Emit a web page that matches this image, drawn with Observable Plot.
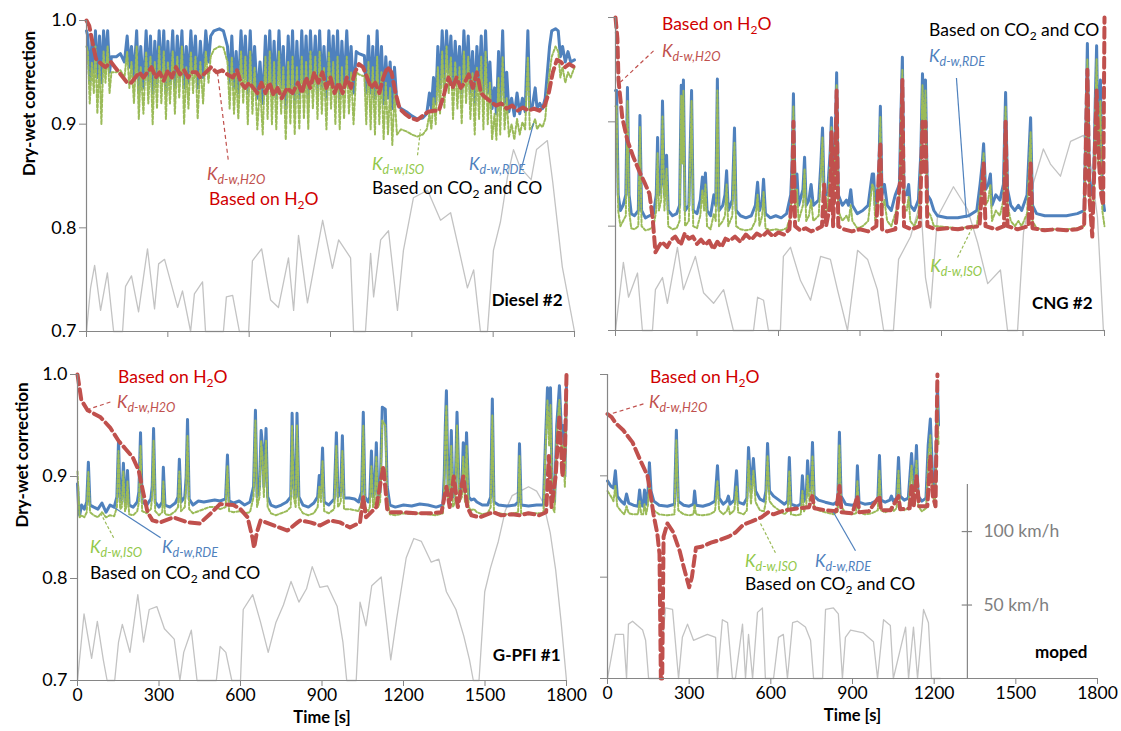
<!DOCTYPE html>
<html><head><meta charset="utf-8">
<script src="https://cdn.jsdelivr.net/npm/d3@7"></script>
<script src="https://cdn.jsdelivr.net/npm/@observablehq/plot@0.6"></script>
<style>
body{margin:0;background:#fff;}
#root{position:relative;width:1121px;height:731px;overflow:hidden;background:#fff;}
#root svg{position:absolute;left:0;top:0;}
</style></head><body><div id="root"></div>
<script>
// ---------------- DATA ----------------
const X_TICKS = [0, 300, 600, 900, 1200, 1500, 1800];
const Y_TICKS = [0.7, 0.8, 0.9, 1.0];
const SPEED_TICKS = [50, 100];           // km/h, secondary axis (moped panel)
const SPEED_LABELS = ["50 km/h", "100 km/h"];

// Diesel #2: [t, K_d-w,RDE, K_d-w,ISO]
const dieselKdw = [[0,0.99,0.975],[5,0.985,0.97],[12,0.94,0.92],[20,0.98,0.96],[27,0.95,0.93],[33,0.99,0.975],[40,0.945,0.91],[48,0.985,0.96],[55,0.94,0.90],[63,0.99,0.97],[70,0.96,0.94],[78,0.99,0.975],[85,0.95,0.93],[92,0.965,0.95],[110,0.965,0.95],[125,0.968,0.952],[140,0.96,0.945],[150,0.985,0.97],[158,0.955,0.935],[166,0.975,0.96],[175,0.945,0.92],[185,0.99,0.975],[193,0.93,0.905],[200,0.975,0.955],[210,0.935,0.91],[220,0.99,0.97],[228,0.94,0.92],[236,0.985,0.965],[244,0.93,0.90],[252,0.98,0.96],[260,0.94,0.915],[268,0.99,0.975],[276,0.945,0.92],[285,0.99,0.97],[293,0.93,0.905],[300,0.98,0.96],[308,0.94,0.92],[318,0.99,0.97],[326,0.935,0.91],[335,0.985,0.965],[342,0.945,0.925],[352,0.99,0.975],[360,0.935,0.90],[368,0.975,0.955],[376,0.94,0.915],[385,0.99,0.97],[393,0.95,0.93],[402,0.985,0.965],[410,0.935,0.905],[420,0.98,0.96],[430,0.945,0.92],[440,0.99,0.97],[450,0.96,0.94],[458,0.985,0.965],[470,0.99,0.972],[490,0.992,0.975],[505,0.99,0.974],[520,0.975,0.96],[528,0.94,0.915],[536,0.985,0.965],[544,0.935,0.91],[552,0.97,0.95],[560,0.93,0.905],[570,0.99,0.97],[578,0.945,0.92],[586,0.985,0.965],[595,0.93,0.90],[604,0.99,0.97],[612,0.935,0.91],[620,0.975,0.955],[630,0.925,0.895],[640,0.96,0.94],[650,0.92,0.89],[660,0.985,0.965],[668,0.935,0.905],[676,0.99,0.97],[684,0.93,0.90],[692,0.98,0.96],[700,0.925,0.895],[710,0.99,0.97],[718,0.935,0.91],[726,0.975,0.955],[735,0.915,0.885],[744,0.985,0.96],[752,0.93,0.90],[760,0.99,0.965],[768,0.92,0.89],[776,0.98,0.955],[785,0.925,0.895],[794,0.99,0.965],[802,0.935,0.905],[810,0.985,0.96],[818,0.925,0.895],[826,0.99,0.97],[835,0.94,0.915],[844,0.985,0.965],[852,0.93,0.905],[860,0.99,0.97],[868,0.935,0.91],[876,0.975,0.955],[885,0.925,0.895],[894,0.99,0.97],[902,0.94,0.915],[910,0.985,0.96],[918,0.93,0.90],[926,0.99,0.965],[934,0.925,0.895],[942,0.98,0.955],[950,0.935,0.905],[960,0.99,0.965],[968,0.94,0.91],[976,0.975,0.95],[985,0.93,0.90],[995,0.97,0.95],[1005,0.968,0.948],[1025,0.966,0.946],[1032,0.93,0.90],[1040,0.985,0.96],[1048,0.93,0.895],[1056,0.975,0.955],[1064,0.925,0.89],[1072,0.99,0.965],[1080,0.93,0.90],[1088,0.975,0.95],[1096,0.92,0.885],[1104,0.965,0.94],[1112,0.925,0.89],[1120,0.96,0.935],[1128,0.915,0.88],[1136,0.955,0.93],[1145,0.92,0.89],[1160,0.915,0.895],[1180,0.912,0.893],[1200,0.908,0.89],[1220,0.905,0.888],[1240,0.906,0.89],[1255,0.91,0.895],[1265,0.93,0.91],[1272,0.915,0.895],[1280,0.945,0.925],[1288,0.92,0.90],[1296,0.975,0.955],[1304,0.935,0.91],[1312,0.99,0.97],[1320,0.94,0.915],[1328,0.99,0.975],[1336,0.95,0.93],[1344,0.985,0.965],[1352,0.935,0.905],[1360,0.98,0.96],[1368,0.94,0.915],[1376,0.975,0.955],[1384,0.93,0.90],[1392,0.99,0.97],[1400,0.945,0.92],[1408,0.985,0.965],[1416,0.93,0.905],[1424,0.97,0.95],[1432,0.92,0.89],[1440,0.975,0.955],[1448,0.935,0.905],[1456,0.985,0.965],[1464,0.925,0.895],[1472,0.99,0.97],[1480,0.93,0.90],[1488,0.96,0.94],[1496,0.915,0.885],[1505,0.935,0.91],[1512,0.91,0.885],[1520,0.97,0.945],[1526,0.915,0.89],[1535,0.99,0.965],[1542,0.92,0.895],[1550,0.95,0.925],[1558,0.912,0.888],[1568,0.925,0.90],[1578,0.908,0.885],[1588,0.93,0.905],[1598,0.91,0.89],[1608,0.925,0.902],[1618,0.912,0.895],[1628,0.99,0.965],[1635,0.915,0.895],[1645,0.918,0.898],[1655,0.935,0.905],[1662,0.915,0.895],[1672,0.92,0.90],[1682,0.915,0.897],[1692,0.925,0.905],[1700,0.95,0.93],[1708,0.975,0.95],[1716,0.99,0.965],[1730,0.992,0.975],[1740,0.99,0.97],[1748,0.965,0.945],[1756,0.975,0.955],[1766,0.96,0.94],[1776,0.97,0.95],[1786,0.96,0.945],[1800,0.962,0.955]];
// Diesel #2: [t, K_d-w,H2O]
const dieselH2O = [[0,1.0],[10,0.995],[25,0.975],[35,0.963],[55,0.958],[70,0.955],[90,0.96],[105,0.955],[120,0.95],[135,0.945],[150,0.94],[165,0.94],[180,0.945],[195,0.95],[210,0.945],[225,0.95],[240,0.955],[255,0.945],[270,0.95],[285,0.942],[300,0.952],[315,0.945],[330,0.955],[345,0.948],[360,0.952],[375,0.945],[390,0.95],[405,0.95],[420,0.945],[440,0.95],[460,0.955],[480,0.95],[500,0.952],[520,0.948],[540,0.945],[555,0.952],[570,0.94],[585,0.935],[600,0.94],[615,0.935],[630,0.93],[645,0.94],[660,0.93],[675,0.94],[690,0.928],[705,0.935],[720,0.925],[740,0.935],[760,0.93],[780,0.94],[795,0.93],[810,0.945],[825,0.935],[840,0.95],[855,0.94],[870,0.95],[885,0.935],[900,0.945],[915,0.93],[930,0.94],[945,0.93],[960,0.945],[975,0.935],[990,0.95],[1005,0.958],[1020,0.955],[1035,0.945],[1050,0.935],[1065,0.94],[1080,0.93],[1095,0.945],[1110,0.955],[1125,0.95],[1140,0.93],[1155,0.915],[1175,0.91],[1195,0.906],[1220,0.904],[1240,0.908],[1260,0.912],[1280,0.913],[1300,0.913],[1320,0.93],[1335,0.945],[1350,0.935],[1365,0.945],[1380,0.935],[1395,0.94],[1410,0.948],[1425,0.935],[1440,0.95],[1455,0.93],[1470,0.926],[1490,0.922],[1510,0.918],[1530,0.92],[1550,0.915],[1570,0.918],[1590,0.913],[1610,0.916],[1630,0.913],[1650,0.915],[1670,0.913],[1690,0.918],[1705,0.93],[1720,0.95],[1735,0.962],[1750,0.96],[1765,0.955],[1780,0.958],[1800,0.955]];
// Diesel #2 vehicle speed: [t, km/h]
const dieselSpeed = [[0,0],[15,29],[30,44],[52,14],[77,39],[100,0],[133,0],[144,30],[166,37],[192,13],[225,55],[251,15],[266,45],[288,48],[336,16],[354,27],[384,0],[398,25],[428,33],[439,0],[505,0],[516,23],[539,24],[564,0],[598,0],[612,47],[646,55],[668,32],[679,21],[708,16],[745,49],[764,14],[782,64],[815,19],[871,74],[907,42],[930,61],[974,49],[985,0],[1029,0],[1048,52],[1059,23],[1085,61],[1114,67],[1147,14],[1169,54],[1206,89],[1258,94],[1306,74],[1343,79],[1372,56],[1405,29],[1428,41],[1453,0],[1479,0],[1501,54],[1527,73],[1553,103],[1575,121],[1600,109],[1640,101],[1660,121],[1700,127],[1720,99],[1755,43],[1800,0]];

// CNG #2: [t, K_d-w,RDE, K_d-w,ISO]
const cngKdw = [[0,0.93,0.915],[4,0.93,0.915],[10,0.83,0.815],[18,0.815,0.80],[28,0.82,0.805],[38,0.83,0.81],[44,0.933,0.92],[50,0.83,0.815],[58,0.812,0.798],[70,0.81,0.797],[84,0.815,0.80],[90,0.906,0.895],[96,0.815,0.80],[110,0.808,0.796],[125,0.81,0.797],[140,0.812,0.80],[150,0.83,0.815],[155,0.885,0.87],[160,0.83,0.815],[168,0.84,0.825],[173,0.92,0.905],[180,0.83,0.815],[188,0.868,0.855],[194,0.815,0.80],[210,0.81,0.797],[225,0.812,0.798],[236,0.82,0.805],[242,0.935,0.925],[246,0.87,0.86],[250,0.94,0.93],[256,0.815,0.80],[270,0.82,0.805],[280,0.93,0.92],[286,0.815,0.80],[300,0.812,0.798],[312,0.825,0.81],[320,0.847,0.835],[326,0.83,0.815],[331,0.851,0.84],[337,0.815,0.80],[350,0.81,0.797],[362,0.83,0.812],[369,0.82,0.805],[375,0.941,0.93],[381,0.815,0.80],[395,0.82,0.805],[403,0.83,0.81],[409,0.853,0.84],[415,0.815,0.80],[430,0.825,0.81],[438,0.894,0.88],[444,0.815,0.80],[460,0.81,0.797],[480,0.808,0.796],[500,0.81,0.797],[515,0.82,0.805],[523,0.842,0.83],[530,0.815,0.80],[540,0.825,0.81],[545,0.845,0.833],[552,0.812,0.798],[570,0.808,0.796],[590,0.81,0.797],[610,0.808,0.796],[630,0.812,0.798],[645,0.83,0.81],[650,0.86,0.845],[655,0.927,0.915],[661,0.83,0.815],[668,0.85,0.835],[674,0.82,0.805],[690,0.835,0.82],[696,0.866,0.855],[702,0.82,0.805],[712,0.825,0.81],[720,0.84,0.825],[728,0.82,0.805],[748,0.825,0.81],[756,0.86,0.85],[762,0.894,0.885],[768,0.83,0.815],[780,0.83,0.815],[790,0.87,0.86],[795,0.904,0.895],[801,0.84,0.825],[808,0.87,0.86],[814,0.947,0.935],[820,0.83,0.815],[835,0.82,0.805],[850,0.825,0.81],[858,0.82,0.805],[866,0.835,0.82],[872,0.82,0.805],[890,0.812,0.798],[910,0.815,0.80],[930,0.82,0.805],[945,0.85,0.84],[950,0.85,0.838],[956,0.82,0.805],[968,0.84,0.825],[975,0.915,0.905],[981,0.83,0.815],[990,0.84,0.825],[1000,0.82,0.805],[1015,0.815,0.80],[1030,0.83,0.812],[1045,0.84,0.825],[1050,0.90,0.89],[1056,0.962,0.95],[1062,0.83,0.815],[1072,0.83,0.815],[1079,0.84,0.828],[1085,0.82,0.805],[1100,0.815,0.80],[1115,0.825,0.81],[1124,0.87,0.86],[1130,0.946,0.935],[1136,0.90,0.89],[1141,0.94,0.93],[1148,0.83,0.815],[1160,0.825,0.81],[1172,0.815,0.80],[1185,0.81,0.80],[1220,0.808,0.799],[1260,0.808,0.798],[1300,0.81,0.799],[1330,0.815,0.80],[1342,0.84,0.825],[1350,0.86,0.85],[1355,0.879,0.87],[1362,0.835,0.82],[1372,0.84,0.825],[1380,0.85,0.84],[1386,0.82,0.805],[1400,0.83,0.815],[1415,0.825,0.81],[1428,0.84,0.825],[1436,0.928,0.915],[1443,0.835,0.82],[1455,0.82,0.805],[1470,0.815,0.80],[1483,0.82,0.805],[1495,0.815,0.80],[1515,0.83,0.812],[1528,0.904,0.89],[1535,0.82,0.805],[1550,0.812,0.798],[1580,0.81,0.797],[1620,0.81,0.797],[1660,0.81,0.797],[1700,0.812,0.798],[1725,0.815,0.80],[1732,0.90,0.89],[1737,0.975,0.96],[1744,0.85,0.835],[1752,0.83,0.815],[1760,0.84,0.825],[1766,0.92,0.905],[1771,0.973,0.96],[1777,0.87,0.86],[1785,0.94,0.92],[1792,0.83,0.815],[1800,0.815,0.80]];
// CNG #2: [t, K_d-w,H2O]
const cngH2O = [[0,1.0],[7,0.98],[11,0.94],[25,0.904],[44,0.882],[66,0.866],[92,0.85],[110,0.84],[125,0.831],[136,0.81],[147,0.775],[158,0.78],[170,0.785],[190,0.78],[205,0.787],[220,0.79],[240,0.782],[255,0.793],[270,0.788],[285,0.79],[300,0.783],[315,0.787],[330,0.782],[345,0.786],[360,0.778],[375,0.785],[390,0.78],[405,0.788],[420,0.786],[440,0.79],[460,0.785],[480,0.792],[500,0.787],[520,0.793],[540,0.79],[560,0.795],[580,0.79],[600,0.794],[620,0.792],[640,0.797],[650,0.83],[655,0.90],[661,0.80],[680,0.796],[700,0.798],[720,0.795],[740,0.797],[760,0.8],[768,0.84],[775,0.8],[790,0.82],[795,0.89],[801,0.8],[808,0.85],[814,0.93],[820,0.8],[840,0.797],[870,0.795],[900,0.797],[930,0.795],[960,0.8],[975,0.88],[981,0.797],[1000,0.795],[1030,0.797],[1050,0.85],[1056,0.94],[1062,0.8],[1090,0.797],[1120,0.80],[1130,0.9],[1136,0.85],[1141,0.9],[1148,0.8],[1180,0.797],[1220,0.798],[1260,0.797],[1300,0.799],[1340,0.8],[1355,0.86],[1362,0.8],[1400,0.797],[1430,0.8],[1436,0.9],[1443,0.8],[1480,0.797],[1520,0.8],[1528,0.86],[1535,0.798],[1580,0.796],[1620,0.797],[1660,0.796],[1700,0.797],[1725,0.80],[1737,0.95],[1744,0.83],[1755,0.79],[1771,0.93],[1780,0.86],[1788,0.83],[1795,0.82],[1800,1.0]];
const cngSpeed = [[0,0],[29,45],[48,22],[81,38],[99,0],[136,0],[147,27],[173,35],[191,18],[228,55],[250,27],[294,49],[324,25],[361,18],[398,27],[434,0],[508,0],[523,22],[545,20],[563,0],[607,0],[618,49],[644,55],[681,33],[718,20],[755,49],[791,47],[817,27],[854,0],[891,53],[928,47],[964,27],[987,0],[1023,0],[1042,47],[1086,62],[1123,85],[1141,35],[1160,15],[1185,75],[1244,95],[1296,80],[1333,58],[1370,31],[1417,40],[1443,0],[1480,0],[1502,65],[1539,98],[1575,120],[1601,110],[1638,102],[1675,125],[1723,129],[1749,110],[1774,75],[1796,0],[1800,0]];

// G-PFI #1: [t, K_d-w,RDE, K_d-w,ISO]
const gpfiKdw = [[0,0.893,0.905],[4,0.87,0.88],[8,0.862,0.86],[15,0.872,0.862],[25,0.868,0.86],[34,0.875,0.865],[40,0.914,0.905],[46,0.872,0.865],[60,0.87,0.862],[75,0.868,0.86],[90,0.874,0.865],[105,0.865,0.86],[120,0.872,0.862],[135,0.87,0.861],[145,0.88,0.87],[151,0.935,0.925],[157,0.875,0.868],[163,0.88,0.87],[169,0.913,0.905],[175,0.875,0.866],[180,0.88,0.87],[184,0.906,0.895],[190,0.872,0.863],[205,0.87,0.862],[220,0.875,0.866],[226,0.885,0.875],[232,0.943,0.93],[238,0.875,0.866],[255,0.872,0.864],[270,0.878,0.868],[275,0.89,0.88],[280,0.947,0.935],[286,0.875,0.866],[300,0.87,0.862],[312,0.875,0.865],[316,0.909,0.895],[322,0.872,0.863],[340,0.87,0.862],[360,0.874,0.866],[370,0.88,0.87],[375,0.917,0.905],[381,0.875,0.866],[395,0.88,0.87],[400,0.9,0.89],[405,0.956,0.94],[411,0.878,0.868],[425,0.872,0.864],[445,0.876,0.866],[465,0.875,0.868],[485,0.876,0.87],[505,0.877,0.87],[525,0.876,0.868],[545,0.878,0.87],[552,0.921,0.91],[558,0.876,0.866],[575,0.874,0.865],[595,0.876,0.866],[615,0.872,0.864],[635,0.875,0.865],[648,0.89,0.88],[655,0.965,0.955],[661,0.88,0.87],[670,0.89,0.88],[676,0.945,0.935],[681,0.93,0.92],[686,0.89,0.88],[694,0.947,0.935],[700,0.88,0.87],[712,0.872,0.864],[730,0.87,0.862],[750,0.872,0.864],[770,0.875,0.866],[785,0.88,0.87],[790,0.962,0.95],[796,0.89,0.88],[803,0.88,0.87],[808,0.962,0.95],[815,0.88,0.87],[830,0.872,0.864],[850,0.87,0.862],[870,0.874,0.864],[884,0.88,0.87],[890,0.901,0.89],[896,0.885,0.875],[902,0.928,0.915],[908,0.875,0.866],[925,0.872,0.864],[945,0.878,0.868],[953,0.943,0.93],[959,0.88,0.87],[969,0.885,0.875],[975,0.94,0.925],[981,0.879,0.868],[1000,0.879,0.868],[1020,0.878,0.867],[1035,0.875,0.866],[1046,0.885,0.875],[1052,0.963,0.95],[1058,0.88,0.87],[1070,0.875,0.866],[1076,0.88,0.87],[1082,0.925,0.91],[1088,0.88,0.87],[1094,0.885,0.875],[1100,0.933,0.92],[1106,0.88,0.87],[1114,0.885,0.875],[1122,0.968,0.955],[1133,0.966,0.95],[1140,0.89,0.88],[1150,0.872,0.863],[1170,0.87,0.862],[1200,0.872,0.864],[1230,0.871,0.863],[1260,0.873,0.864],[1290,0.872,0.863],[1320,0.87,0.862],[1345,0.872,0.864],[1350,0.901,0.89],[1354,0.95,0.94],[1358,0.984,0.97],[1364,0.89,0.88],[1370,0.885,0.875],[1376,0.945,0.93],[1382,0.88,0.87],[1390,0.885,0.875],[1397,0.963,0.95],[1405,0.885,0.875],[1415,0.89,0.88],[1420,0.933,0.92],[1426,0.885,0.875],[1432,0.943,0.93],[1440,0.88,0.87],[1450,0.877,0.867],[1460,0.878,0.868],[1470,0.875,0.865],[1490,0.872,0.863],[1510,0.872,0.864],[1521,0.88,0.87],[1527,0.976,0.96],[1533,0.875,0.865],[1550,0.872,0.864],[1580,0.871,0.863],[1610,0.872,0.864],[1622,0.875,0.865],[1627,0.932,0.92],[1633,0.872,0.864],[1660,0.871,0.863],[1690,0.872,0.864],[1715,0.872,0.864],[1722,0.93,0.92],[1730,0.987,0.975],[1736,0.95,0.93],[1741,0.987,0.97],[1748,0.88,0.87],[1756,0.875,0.865],[1764,0.95,0.94],[1774,0.989,0.975],[1782,0.94,0.925],[1788,0.95,0.93],[1794,0.9,0.89],[1800,0.992,0.98]];
const gpfiH2O = [[0,1.0],[14,0.975],[37,0.965],[85,0.958],[120,0.948],[151,0.935],[177,0.927],[203,0.919],[225,0.906],[243,0.883],[258,0.865],[276,0.857],[305,0.855],[353,0.86],[405,0.855],[450,0.854],[487,0.863],[525,0.873],[574,0.872],[600,0.868],[626,0.86],[644,0.84],[650,0.83],[660,0.845],[674,0.857],[722,0.852],[773,0.847],[810,0.855],[820,0.857],[857,0.855],[893,0.852],[930,0.857],[966,0.855],[1003,0.85],[1040,0.855],[1052,0.88],[1062,0.86],[1100,0.87],[1126,0.91],[1140,0.868],[1150,0.865],[1200,0.865],[1250,0.864],[1300,0.864],[1340,0.865],[1358,0.89],[1370,0.87],[1385,0.9],[1400,0.87],[1420,0.9],[1435,0.87],[1450,0.862],[1480,0.86],[1530,0.865],[1560,0.862],[1600,0.863],[1630,0.862],[1660,0.864],[1700,0.862],[1725,0.865],[1735,0.92],[1745,0.87],[1760,0.9],[1774,0.96],[1785,0.9],[1795,0.93],[1800,1.0]];
const gpfiSpeed = [[0,0],[24,45],[52,15],[73,40],[95,14],[109,0],[137,0],[151,26],[165,38],[193,19],[222,58],[243,26],[264,48],[292,50],[320,35],[356,28],[377,0],[391,19],[419,34],[440,0],[511,0],[525,23],[546,19],[568,0],[600,0],[610,48],[645,58],[673,40],[702,19],[730,39],[758,51],[786,67],[815,53],[843,62],[864,77],[892,63],[920,64],[956,50],[977,26],[991,0],[1026,0],[1040,53],[1062,37],[1083,64],[1118,70],[1139,37],[1153,14],[1175,42],[1210,83],[1238,96],[1266,94],[1302,80],[1330,82],[1358,60],[1393,48],[1422,30],[1443,14],[1457,0],[1478,0],[1499,60],[1520,76],[1549,94],[1575,115],[1600,125],[1630,128],[1660,131],[1690,128],[1715,120],[1740,100],[1760,75],[1780,40],[1800,0]];

// moped: [t, K_d-w,RDE, K_d-w,ISO]
const mopedKdw = [[0,0.895,0.885],[12,0.89,0.88],[22,0.888,0.875],[29,0.905,0.89],[36,0.88,0.87],[50,0.875,0.865],[62,0.872,0.862],[70,0.882,0.87],[78,0.873,0.863],[95,0.871,0.862],[112,0.87,0.862],[118,0.886,0.875],[124,0.871,0.862],[131,0.87,0.862],[136,0.886,0.872],[142,0.872,0.862],[149,0.885,0.872],[154,0.913,0.895],[160,0.885,0.875],[170,0.875,0.866],[190,0.871,0.862],[220,0.87,0.861],[246,0.872,0.862],[253,0.945,0.935],[260,0.875,0.866],[280,0.871,0.862],[300,0.87,0.861],[316,0.872,0.862],[320,0.885,0.872],[325,0.871,0.862],[350,0.87,0.861],[375,0.872,0.862],[395,0.875,0.865],[404,0.91,0.895],[410,0.878,0.866],[425,0.872,0.862],[438,0.875,0.865],[444,0.88,0.87],[450,0.872,0.862],[466,0.876,0.866],[474,0.905,0.89],[480,0.874,0.864],[500,0.872,0.862],[512,0.878,0.866],[518,0.928,0.915],[527,0.885,0.872],[536,0.917,0.905],[544,0.885,0.874],[560,0.877,0.866],[575,0.875,0.865],[582,0.885,0.875],[588,0.932,0.92],[595,0.885,0.875],[610,0.88,0.87],[630,0.876,0.866],[650,0.872,0.862],[662,0.875,0.865],[668,0.918,0.905],[674,0.872,0.862],[695,0.87,0.861],[710,0.872,0.862],[716,0.9,0.885],[722,0.875,0.865],[730,0.88,0.87],[735,0.915,0.9],[742,0.885,0.875],[748,0.89,0.88],[753,0.933,0.92],[759,0.88,0.87],[775,0.876,0.866],[800,0.874,0.864],[830,0.872,0.862],[846,0.875,0.865],[852,0.943,0.93],[858,0.88,0.87],[875,0.872,0.863],[900,0.871,0.862],[913,0.873,0.863],[918,0.91,0.895],[924,0.874,0.864],[945,0.872,0.862],[970,0.873,0.863],[993,0.876,0.866],[999,0.92,0.905],[1005,0.876,0.866],[1020,0.874,0.864],[1037,0.876,0.866],[1043,0.88,0.87],[1050,0.875,0.865],[1062,0.878,0.868],[1069,0.918,0.905],[1075,0.88,0.87],[1090,0.876,0.866],[1105,0.878,0.868],[1111,0.9,0.89],[1117,0.922,0.91],[1124,0.89,0.88],[1130,0.9,0.89],[1135,0.93,0.915],[1141,0.88,0.87],[1155,0.875,0.865],[1170,0.878,0.868],[1178,0.93,0.915],[1186,0.956,0.94],[1194,0.9,0.885],[1202,0.88,0.87],[1208,0.93,0.915],[1212,0.992,0.98],[1216,0.95,0.93]];
const mopedH2O = [[0,0.961],[15,0.958],[30,0.952],[58,0.945],[92,0.933],[121,0.915],[147,0.90],[158,0.882],[169,0.862],[183,0.843],[191,0.823],[196,0.70],[201,0.70],[206,0.84],[220,0.853],[240,0.845],[265,0.826],[280,0.81],[300,0.79],[310,0.80],[325,0.829],[345,0.83],[380,0.834],[415,0.837],[445,0.84],[470,0.844],[500,0.852],[530,0.855],[565,0.859],[590,0.864],[610,0.862],[650,0.866],[700,0.868],[740,0.869],[752,0.88],[760,0.868],[800,0.866],[840,0.865],[852,0.89],[860,0.864],[900,0.863],[918,0.88],[925,0.864],[960,0.865],[999,0.88],[1005,0.866],[1040,0.866],[1069,0.88],[1075,0.867],[1110,0.868],[1117,0.89],[1125,0.87],[1135,0.9],[1145,0.87],[1175,0.87],[1186,0.92],[1195,0.88],[1205,0.87],[1212,1.0]];
const mopedSpeed = [[0,0],[29,30],[59,30],[70,0],[77,37],[92,39],[110,36],[129,33],[140,26],[151,0],[191,0],[213,48],[239,47],[261,0],[275,28],[294,37],[316,26],[367,30],[397,28],[404,0],[422,40],[441,38],[459,0],[470,0],[496,37],[507,0],[518,30],[533,0],[551,45],[569,48],[580,0],[610,0],[628,28],[646,30],[661,0],[680,38],[698,39],[727,35],[746,26],[757,0],[790,0],[801,47],[830,48],[848,44],[863,0],[874,28],[893,33],[940,31],[977,25],[992,0],[1014,40],[1039,36],[1050,0],[1095,35],[1106,0],[1124,35],[1139,0],[1161,47],[1179,38],[1190,0],[1223,0]];

// ---------------- STYLE / LAYOUT ----------------
const FONT = "Lato, 'Open Sans', 'DejaVu Sans', sans-serif";
const BLUE = "#4f81bd", GREEN = "#9bbb59", RED = "#c0504d", GREY = "#c3c3c3", AXIS = "#868686";
const TXT_RED = "#d00000", TXT_KRED = "#c0504d", TXT_GREEN = "#92c84a", TXT_BLUE = "#4f81bd";
const SPEED_K = 0.00145;            // correction units per km/h (secondary speed axis)
const speedToY = s => 0.7 + s * SPEED_K;
const SPEED_AXIS_T = 1322;

const W = 1121, H = 731;
const panels = [
  {id:"diesel", frame:{l:86, r:574, t:20, b:331}, xLabels:false, yLabels:true, ylabDx:-57,
   kdw:dieselKdw, h2o:dieselH2O, speed:dieselSpeed,
   name:{t:1756, v:0.730, text:"Diesel #2"},
   texts:[
     {t:446, v:0.852, text:"K_{d-w,H2O}", color:TXT_KRED, k:true},
     {t:454, v:0.828, text:"Based on H_{2}O", color:TXT_RED},
     {t:1055, v:0.861, text:"K_{d-w,ISO}", color:TXT_GREEN, k:true},
     {t:1413, v:0.861, text:"K_{d-w,RDE}", color:TXT_BLUE, k:true},
     {t:1055, v:0.838, text:"Based on CO_{2} and CO", color:"#000"}],
   leaders:[
     {t1:483, v1:0.950, t2:524, v2:0.863, color:RED, dash:"4,3"},
     {t1:1221, v1:0.870, t2:1232, v2:0.895, color:GREEN, dash:"3,2"},
     {t1:1605, v1:0.858, t2:1649, v2:0.901, color:BLUE, dash:null}]},
  {id:"cng", frame:{l:615, r:1104, t:17, b:330}, xLabels:false, yLabels:false,
   kdw:cngKdw, h2o:cngH2O, speed:cngSpeed,
   name:{t:1756, v:0.726, text:"CNG #2"},
   texts:[
     {t:173, v:0.994, text:"Based on H_{2}O", color:TXT_RED},
     {t:173, v:0.968, text:"K_{d-w,H2O}", color:TXT_KRED, k:true},
     {t:1156, v:0.988, text:"Based on CO_{2} and CO", color:"#000"},
     {t:1156, v:0.963, text:"K_{d-w,RDE}", color:TXT_BLUE, k:true},
     {t:1160, v:0.761, text:"K_{d-w,ISO}", color:TXT_GREEN, k:true}],
   leaders:[
     {t1:140, v1:0.968, t2:18, v2:0.938, color:RED, dash:"4,3"},
     {t1:1255, v1:0.942, t2:1292, v2:0.808, color:BLUE, dash:null},
     {t1:1259, v1:0.770, t2:1318, v2:0.801, color:GREEN, dash:"3,2"}]},
  {id:"gpfi", frame:{l:77, r:566, t:374, b:680}, xLabels:true, yLabels:true, ylabDx:-55, timeLabel:true,
   kdw:gpfiKdw, h2o:gpfiH2O, speed:gpfiSpeed,
   name:{t:1778, v:0.724, text:"G-PFI #1"},
   texts:[
     {t:151, v:0.997, text:"Based on H_{2}O", color:TXT_RED},
     {t:147, v:0.973, text:"K_{d-w,H2O}", color:TXT_KRED, k:true},
     {t:48, v:0.831, text:"K_{d-w,ISO}", color:TXT_GREEN, k:true},
     {t:313, v:0.831, text:"K_{d-w,RDE}", color:TXT_BLUE, k:true},
     {t:48, v:0.805, text:"Based on CO_{2} and CO", color:"#000"}],
   leaders:[
     {t1:121, v1:0.973, t2:29, v2:0.965, color:RED, dash:"4,3"},
     {t1:133, v1:0.840, t2:85, v2:0.864, color:GREEN, dash:"3,2"},
     {t1:306, v1:0.840, t2:121, v2:0.872, color:BLUE, dash:null}]},
  {id:"moped", frame:{l:607, r:1097, t:374, b:678}, xLabels:true, yLabels:false, timeLabel:true, speedAxis:true,
   kdw:mopedKdw, h2o:mopedH2O, speed:mopedSpeed,
   name:{t:1763, v:0.726, text:"moped"},
   texts:[
     {t:158, v:0.997, text:"Based on H_{2}O", color:TXT_RED},
     {t:154, v:0.972, text:"K_{d-w,H2O}", color:TXT_KRED, k:true},
     {t:507, v:0.816, text:"K_{d-w,ISO}", color:TXT_GREEN, k:true},
     {t:764, v:0.816, text:"K_{d-w,RDE}", color:TXT_BLUE, k:true},
     {t:507, v:0.793, text:"Based on CO_{2} and CO", color:"#000"}],
   leaders:[
     {t1:132, v1:0.971, t2:11, v2:0.961, color:RED, dash:"4,3"},
     {t1:562, v1:0.853, t2:617, v2:0.824, color:GREEN, dash:"3,2"},
     {t1:830, v1:0.864, t2:911, v2:0.826, color:BLUE, dash:null}]}
];

function scaleFn(plot, name) {
  const s = plot.scale(name);
  if (s && typeof s.apply === "function") return v => s.apply(v);
  const [d0, d1] = s.domain, [r0, r1] = s.range;
  return v => r0 + (v - d0) / (d1 - d0) * (r1 - r0);
}

function richText(svg, sx, sy, a) {
  const size = a.k ? 17 : 17.5;
  const subSize = a.k ? 12.5 : 12;
  const shift = 4;
  const text = d3.select(svg).append("text")
    .attr("x", sx(a.t)).attr("y", sy(a.v) + size * 0.36)
    .attr("text-anchor", "start")
    .attr("fill", a.color).attr("font-family", FONT).attr("font-size", size)
    .attr("font-style", a.k ? "italic" : null);
  const parts = a.text.split(/(_\{[^}]*\})/).filter(s => s);
  let cur = 0;
  for (const p of parts) {
    const m = p.match(/^_\{(.*)\}$/);
    const ts = text.append("tspan");
    if (m) { ts.text(m[1]).attr("font-size", subSize).attr("dy", shift - cur); cur = shift; }
    else { ts.text(p); if (cur) ts.attr("dy", -cur); cur = 0; }
  }
}

const root = document.getElementById("root");
for (const p of panels) {
  const f = p.frame;
  const rde = p.kdw.map(d => ({t: d[0], v: d[1]}));
  const iso = p.kdw.map(d => ({t: d[0], v: d[2]}));
  const h2o = p.h2o.map(d => ({t: d[0], v: d[1]}));
  const spd = p.speed.map(d => ({t: d[0], v: speedToY(d[1])}));
  const marks = [
    Plot.line(spd, {x: "t", y: "v", stroke: GREY, strokeWidth: 1.3}),
    Plot.line(rde, {x: "t", y: "v", stroke: BLUE, strokeWidth: 3, strokeLinejoin: "round"}),
    Plot.line(iso, {x: "t", y: "v", stroke: GREEN, strokeWidth: 2, strokeDasharray: "3,2"}),
    Plot.line(h2o, {x: "t", y: "v", stroke: RED, strokeWidth: 4, strokeDasharray: "10,5"}),
    Plot.ruleY([0.7], {x1: 0, x2: 1800, stroke: AXIS, strokeWidth: 1.2}),
    Plot.ruleX([0], {y1: 0.7, y2: 1.0, stroke: AXIS, strokeWidth: 1.2}),
    Plot.axisX({ticks: X_TICKS, tickSize: 6, tickPadding: 2, stroke: AXIS, fill: "#000", fontSize: 17.5,
      tickFormat: p.xLabels ? (d => String(d)) : (() => ""), label: null}),
    Plot.axisY({ticks: Y_TICKS, tickSize: 7, tickPadding: 3, stroke: AXIS, fill: "#000", fontSize: 18,
      tickFormat: p.yLabels ? (d => d.toFixed(1)) : (() => ""), label: null}),
    ...p.leaders.map(l => Plot.link([l], {x1: "t1", y1: "v1", x2: "t2", y2: "v2", stroke: l.color, strokeWidth: 1.2, strokeDasharray: l.dash || undefined})),
    Plot.text([p.name], {x: "t", y: "v", text: "text", textAnchor: "end", fontWeight: "bold", fontSize: 17, fill: "#000"})
  ];
  if (p.yLabels) marks.push(Plot.text(["Dry-wet correction"], {frameAnchor: "left", dx: p.ylabDx, rotate: -90, fontWeight: "bold", fontSize: 17, fill: "#000"}));
  if (p.timeLabel) marks.push(Plot.text(["Time [s]"], {frameAnchor: "bottom", dy: 42, fontWeight: "bold", fontSize: 16.5, fill: "#000"}));
  if (p.speedAxis) {
    marks.push(Plot.ruleX([SPEED_AXIS_T], {y1: 0.7, y2: speedToY(132), stroke: AXIS, strokeWidth: 1.2}));
    marks.push(Plot.ruleY(SPEED_TICKS, {y: s => speedToY(s), x1: SPEED_AXIS_T - 19, x2: SPEED_AXIS_T + 19, stroke: AXIS, strokeWidth: 1.2}));
    marks.push(Plot.text(SPEED_TICKS, {x: SPEED_AXIS_T, y: s => speedToY(s), text: (s, i) => SPEED_LABELS[i], textAnchor: "start", dx: 16, fill: "#7f7f7f", fontSize: 17.5}));
  }
  const plot = Plot.plot({
    width: W, height: H,
    marginLeft: f.l, marginRight: W - f.r, marginTop: f.t, marginBottom: H - f.b,
    x: {domain: [0, 1800]},
    y: {domain: [0.7, 1.0]},
    style: {background: "transparent", fontFamily: FONT, fontSize: "17px", color: "#000", maxWidth: "none", overflow: "visible"},
    marks
  });
  const sx = scaleFn(plot, "x"), sy = scaleFn(plot, "y");
  for (const a of p.texts) richText(plot, sx, sy, a);
  root.appendChild(plot);
}
</script></body></html>
